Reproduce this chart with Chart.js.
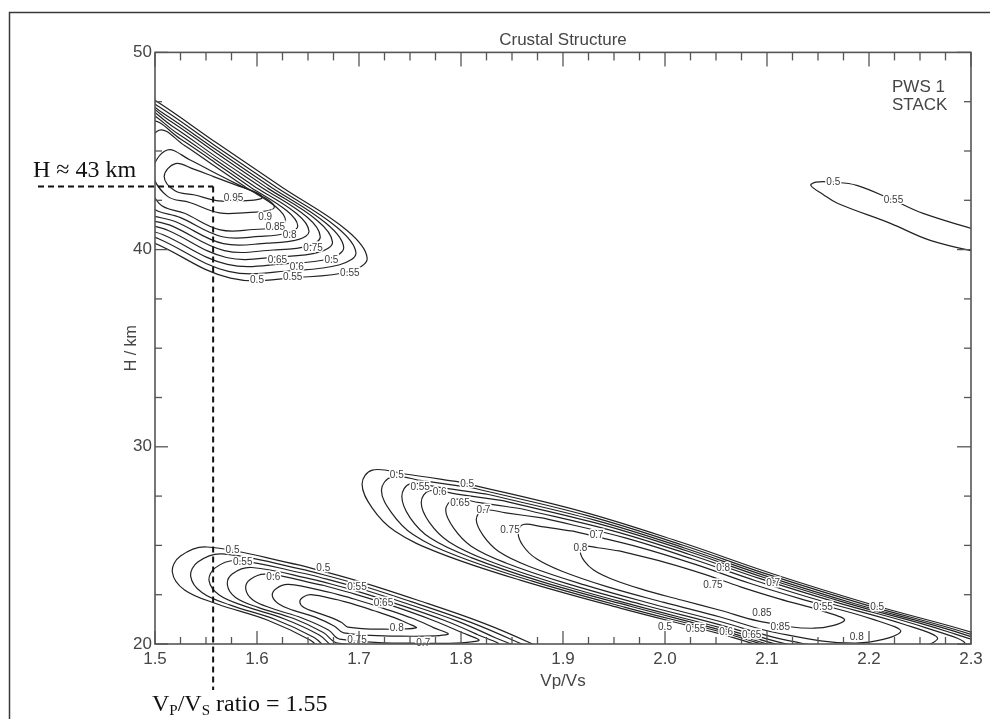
<!DOCTYPE html>
<html><head><meta charset="utf-8">
<style>html,body{margin:0;padding:0;background:#fff;}canvas{display:block;}</style>
<script src="https://cdn.jsdelivr.net/npm/chart.js@4.4.1/dist/chart.umd.min.js"></script>
</head><body>
<canvas id="c" width="990" height="719"></canvas>
<script>
// ---- axis ticks ----
const xTickLabels = ['1.5','1.6','1.7','1.8','1.9','2.0','2.1','2.2','2.3'];
const yTickLabels = ['20','30','40','50'];

// ---- picked values (annotation) ----
const pickedVpVs = 1.557;
const pickedH = 43.2;

// ---- contour levels ----
const levelsTopLeft = [0.5,0.55,0.6,0.65,0.7,0.75,0.8,0.85,0.9,0.95];
const levelsBottomLeft = [0.5,0.55,0.6,0.65,0.7,0.75,0.8];
const levelsMiddle = [0.5,0.55,0.6,0.65,0.7,0.75,0.8,0.85];
const levelsTopRight = [0.5];

// ---- contour lines [Vp/Vs, H] ----
const contoursTopLeft = [
 [[1.626,43.11],[1.688,40.98],[1.708,39.56],[1.691,38.90],[1.642,38.60],[1.574,38.55],[1.500,40.32],[1.446,41.39],[1.412,45.54],[1.446,49.19],[1.500,47.57],[1.561,45.39],[1.626,43.11]],
 [[1.620,43.12],[1.678,41.15],[1.697,39.84],[1.681,39.23],[1.636,38.94],[1.572,38.90],[1.504,40.54],[1.454,41.52],[1.423,45.37],[1.454,48.74],[1.504,47.24],[1.560,45.23],[1.620,43.12]],
 [[1.615,43.12],[1.668,41.32],[1.685,40.11],[1.671,39.55],[1.629,39.29],[1.571,39.25],[1.508,40.75],[1.463,41.66],[1.433,45.19],[1.463,48.29],[1.508,46.91],[1.560,45.06],[1.615,43.12]],
 [[1.610,43.13],[1.659,41.48],[1.674,40.38],[1.661,39.87],[1.623,39.64],[1.570,39.60],[1.513,40.97],[1.471,41.80],[1.444,45.02],[1.471,47.85],[1.513,46.59],[1.560,44.90],[1.610,43.13]],
 [[1.605,43.14],[1.649,41.65],[1.662,40.66],[1.651,40.19],[1.616,39.98],[1.568,39.95],[1.517,41.19],[1.479,41.93],[1.455,44.84],[1.479,47.40],[1.517,46.26],[1.559,44.74],[1.605,43.14]],
 [[1.599,43.15],[1.639,41.82],[1.651,40.93],[1.641,40.52],[1.610,40.33],[1.567,40.30],[1.521,41.40],[1.487,42.07],[1.466,44.67],[1.487,46.95],[1.521,45.93],[1.559,44.57],[1.599,43.15]],
 [[1.594,43.15],[1.629,41.98],[1.640,41.20],[1.630,40.84],[1.603,40.67],[1.566,40.65],[1.525,41.62],[1.496,42.21],[1.477,44.49],[1.496,46.50],[1.525,45.61],[1.559,44.41],[1.594,43.15]],
 [[1.589,43.16],[1.619,42.15],[1.628,41.48],[1.620,41.16],[1.597,41.02],[1.564,41.00],[1.529,41.84],[1.504,42.34],[1.488,44.32],[1.504,46.05],[1.529,45.28],[1.558,44.25],[1.589,43.16]],
 [[1.584,43.23],[1.609,42.59],[1.617,42.16],[1.610,41.97],[1.590,41.88],[1.563,41.86],[1.534,42.39],[1.512,42.71],[1.498,43.96],[1.512,45.05],[1.534,44.56],[1.558,43.91],[1.584,43.23]],
 [[1.579,43.28],[1.599,42.90],[1.605,42.64],[1.600,42.53],[1.584,42.47],[1.562,42.47],[1.538,42.78],[1.520,42.97],[1.509,43.71],[1.520,44.36],[1.538,44.08],[1.558,43.69],[1.579,43.28]]
];

const contoursBottomLeft = [
 [[1.642,24.00],[1.551,24.92],[1.525,24.46],[1.517,23.65],[1.529,22.74],[1.561,22.03],[1.610,21.22],[1.652,20.20],[1.672,19.44],[1.789,19.09],[1.897,19.29],[1.868,20.05],[1.822,21.06],[1.757,22.23],[1.696,23.24],[1.642,24.00]],
 [[1.648,23.75],[1.566,24.57],[1.542,24.16],[1.535,23.43],[1.546,22.61],[1.574,21.97],[1.618,21.24],[1.656,20.33],[1.674,19.65],[1.780,19.33],[1.877,19.51],[1.851,20.19],[1.809,21.11],[1.751,22.15],[1.696,23.07],[1.648,23.75]],
 [[1.653,23.50],[1.580,24.23],[1.559,23.86],[1.553,23.21],[1.563,22.48],[1.588,21.92],[1.627,21.27],[1.661,20.46],[1.677,19.85],[1.771,19.56],[1.857,19.73],[1.833,20.33],[1.797,21.15],[1.745,22.08],[1.696,22.89],[1.653,23.50]],
 [[1.658,23.24],[1.595,23.88],[1.576,23.56],[1.571,22.99],[1.579,22.36],[1.601,21.86],[1.636,21.29],[1.665,20.58],[1.679,20.05],[1.761,19.80],[1.837,19.94],[1.816,20.48],[1.784,21.19],[1.739,22.00],[1.696,22.71],[1.658,23.24]],
 [[1.664,22.99],[1.609,23.54],[1.593,23.26],[1.589,22.78],[1.596,22.23],[1.615,21.80],[1.644,21.32],[1.670,20.71],[1.681,20.25],[1.752,20.04],[1.817,20.16],[1.799,20.62],[1.771,21.23],[1.733,21.93],[1.696,22.53],[1.664,22.99]],
 [[1.672,22.61],[1.631,23.02],[1.619,22.82],[1.615,22.45],[1.621,22.04],[1.635,21.72],[1.657,21.36],[1.676,20.90],[1.685,20.56],[1.738,20.40],[1.787,20.49],[1.773,20.83],[1.753,21.29],[1.724,21.81],[1.696,22.27],[1.672,22.61]],
 [[1.680,22.23],[1.653,22.50],[1.645,22.37],[1.642,22.12],[1.646,21.85],[1.656,21.64],[1.670,21.39],[1.683,21.09],[1.689,20.86],[1.724,20.75],[1.756,20.82],[1.748,21.04],[1.734,21.35],[1.714,21.70],[1.696,22.00],[1.680,22.23]]
];

const contoursMiddle = [
 [[1.799,28.21],[1.745,28.62],[1.713,28.82],[1.703,28.11],[1.713,26.89],[1.735,25.73],[1.779,24.61],[1.858,23.24],[1.956,21.82],[2.054,20.51],[2.152,19.09],[2.289,18.18],[2.368,19.19],[2.319,20.30],[2.204,21.98],[2.106,23.55],[2.015,25.17],[1.917,26.74],[1.799,28.21]],
 [[1.813,27.90],[1.762,28.28],[1.732,28.47],[1.722,27.80],[1.732,26.65],[1.753,25.55],[1.795,24.49],[1.869,23.20],[1.961,21.86],[2.054,20.62],[2.147,19.28],[2.276,18.41],[2.350,19.37],[2.304,20.42],[2.196,22.00],[2.103,23.49],[2.017,25.02],[1.924,26.51],[1.813,27.90]],
 [[1.827,27.58],[1.779,27.94],[1.750,28.12],[1.742,27.49],[1.750,26.41],[1.770,25.37],[1.810,24.38],[1.879,23.16],[1.967,21.90],[2.054,20.72],[2.141,19.46],[2.263,18.65],[2.333,19.55],[2.290,20.54],[2.187,22.03],[2.100,23.43],[2.019,24.87],[1.932,26.27],[1.827,27.58]],
 [[1.841,27.27],[1.796,27.60],[1.769,27.77],[1.761,27.18],[1.769,26.17],[1.788,25.19],[1.825,24.26],[1.890,23.12],[1.972,21.93],[2.054,20.83],[2.136,19.65],[2.250,18.89],[2.316,19.73],[2.275,20.66],[2.179,22.06],[2.097,23.37],[2.021,24.73],[1.939,26.04],[1.841,27.27]],
 [[1.859,26.86],[1.818,27.17],[1.793,27.33],[1.785,26.79],[1.793,25.86],[1.810,24.96],[1.844,24.11],[1.904,23.06],[1.979,21.98],[2.054,20.97],[2.129,19.89],[2.234,19.19],[2.294,19.96],[2.256,20.82],[2.169,22.10],[2.094,23.30],[2.024,24.54],[1.949,25.74],[1.859,26.86]],
 [[1.881,26.38],[1.844,26.65],[1.822,26.79],[1.815,26.31],[1.822,25.48],[1.837,24.69],[1.867,23.93],[1.921,23.00],[1.987,22.04],[2.054,21.14],[2.121,20.17],[2.214,19.55],[2.267,20.24],[2.234,21.00],[2.156,22.14],[2.089,23.21],[2.027,24.31],[1.961,25.38],[1.881,26.38]],
 [[1.910,25.72],[1.879,25.95],[1.861,26.06],[1.856,25.66],[1.861,24.97],[1.874,24.32],[1.899,23.69],[1.943,22.91],[1.999,22.11],[2.054,21.37],[2.109,20.57],[2.187,20.05],[2.231,20.62],[2.204,21.25],[2.139,22.20],[2.083,23.08],[2.032,24.00],[1.976,24.89],[1.910,25.72]],
 [[1.955,24.72],[1.934,24.88],[1.921,24.95],[1.917,24.68],[1.921,24.20],[1.930,23.75],[1.947,23.31],[1.977,22.78],[2.016,22.23],[2.054,21.71],[2.092,21.16],[2.146,20.80],[2.176,21.20],[2.157,21.63],[2.112,22.29],[2.074,22.90],[2.039,23.53],[2.000,24.14],[1.955,24.72]]
];

const contoursTopRight = [
 [[2.319,40.78],[2.253,41.84],[2.224,42.50],[2.188,43.26],[2.165,43.42],[2.148,43.42],[2.143,43.25],[2.155,42.80],[2.169,42.35],[2.221,41.33],[2.260,40.47],[2.319,39.72]]
];

// contour labels [Vp/Vs, H, text]
const contourLabels = [
 [1.577,42.60,'0.95'],[1.608,41.64,'0.9'],[1.618,41.13,'0.85'],[1.632,40.73,'0.8'],[1.655,40.07,'0.75'],
 [1.620,39.46,'0.65'],[1.639,39.10,'0.6'],[1.673,39.46,'0.5'],[1.691,38.80,'0.55'],[1.600,38.44,'0.5'],[1.635,38.60,'0.55'],
 [1.576,24.76,'0.5'],[1.586,24.15,'0.55'],[1.616,23.39,'0.6'],[1.665,23.85,'0.5'],[1.698,22.89,'0.55'],
 [1.724,22.08,'0.65'],[1.737,20.81,'0.8'],[1.698,20.20,'0.75'],[1.763,20.05,'0.7'],
 [1.737,28.56,'0.5'],[1.760,27.95,'0.55'],[1.779,27.70,'0.6'],[1.806,28.10,'0.5'],[1.799,27.14,'0.65'],
 [1.822,26.79,'0.7'],[1.848,25.78,'0.75'],[1.917,24.86,'0.8'],[1.933,25.52,'0.7'],[2.057,23.85,'0.8'],
 [2.047,22.99,'0.75'],[2.106,23.09,'0.7'],[2.208,21.87,'0.5'],[2.155,21.87,'0.55'],[2.095,21.57,'0.85'],
 [2.113,20.86,'0.85'],[2.188,20.35,'0.8'],[2.000,20.85,'0.5'],[2.030,20.75,'0.55'],[2.060,20.60,'0.6'],[2.085,20.45,'0.65'],
 [2.165,43.41,'0.5'],[2.224,42.50,'0.55']
];

const families = [
 {name:'A', lines: contoursTopLeft, levels: levelsTopLeft},
 {name:'B', lines: contoursBottomLeft, levels: levelsBottomLeft},
 {name:'C', lines: contoursMiddle, levels: levelsMiddle},
 {name:'D', lines: contoursTopRight, levels: levelsTopRight}
];

const datasets = [];
families.forEach(f => f.lines.forEach((ln, i) => {
  datasets.push({
    label: f.name + ' ' + f.levels[i],
    data: ln.map(p => ({x: p[0], y: p[1]})),
    showLine: true, borderColor: '#222', borderWidth: 1.2,
    pointRadius: 0, pointHoverRadius: 0, tension: 0.38, fill: false, clip: 0
  });
}));

const FONT = "'Liberation Sans', Arial, Helvetica, sans-serif";
const SERIF = "'Liberation Serif', 'Times New Roman', serif";
const TXT = '#454545';

const decor = {
  id: 'decor',
  beforeDraw(chart) {
    const c = chart.ctx;
    c.save(); c.fillStyle = '#fff'; c.fillRect(0, 0, chart.width, chart.height); c.restore();
  },
  afterDatasetsDraw(chart) {
    const {ctx: c, scales: {x, y}} = chart;
    c.save();
    c.font = '10px ' + FONT;
    c.textAlign = 'center'; c.textBaseline = 'middle';
    contourLabels.forEach(l => {
      const px = x.getPixelForValue(l[0]), py = y.getPixelForValue(l[1]);
      c.lineWidth = 3; c.strokeStyle = '#fff'; c.strokeText(l[2], px, py);
      c.fillStyle = '#3a3a3a'; c.fillText(l[2], px, py);
    });
    c.restore();
  },
  afterDraw(chart) {
    const {ctx: c, chartArea: a, scales: {x, y}} = chart;
    c.save();
    // outer frame
    c.strokeStyle = '#3a3a3a'; c.lineWidth = 1.5;
    c.beginPath(); c.moveTo(9.5, chart.height); c.lineTo(9.5, 12.5); c.lineTo(chart.width, 12.5); c.stroke();
    // plot box
    c.strokeStyle = '#555'; c.lineWidth = 1.6;
    c.strokeRect(a.left, a.top, a.right - a.left, a.bottom - a.top);
    // inward ticks
    c.lineWidth = 1.3;
    const line = (x1, y1, x2, y2) => { c.beginPath(); c.moveTo(x1, y1); c.lineTo(x2, y2); c.stroke(); };
    const xv = xTickLabels.map(Number), yv = yTickLabels.map(Number);
    for (let i = 0; i < xv.length; i++) {
      const p = x.getPixelForValue(xv[i]);
      line(p, a.bottom, p, a.bottom - 13); line(p, a.top, p, a.top + 14);
      if (i < xv.length - 1) for (let k = 1; k < 4; k++) {
        const q = x.getPixelForValue(xv[i] + (xv[i + 1] - xv[i]) * k / 4);
        line(q, a.bottom, q, a.bottom - 7); line(q, a.top, q, a.top + 8);
      }
    }
    for (let i = 0; i < yv.length; i++) {
      const p = y.getPixelForValue(yv[i]);
      line(a.left, p, a.left + 13, p); line(a.right, p, a.right - 14, p);
      if (i < yv.length - 1) for (let k = 1; k < 4; k++) {
        const q = y.getPixelForValue(yv[i] + (yv[i + 1] - yv[i]) * k / 4);
        line(a.left, q, a.left + 7, q); line(a.right, q, a.right - 7, q);
      }
    }
    // station text
    c.fillStyle = TXT; c.font = '17px ' + FONT; c.textAlign = 'left'; c.textBaseline = 'middle';
    c.fillText('PWS 1', a.right - 79, a.top + 35);
    c.fillText('STACK', a.right - 79, a.top + 53);
    // annotation dashed lines
    const hx = x.getPixelForValue(pickedVpVs), hy = y.getPixelForValue(pickedH);
    c.strokeStyle = '#111'; c.lineWidth = 2; c.setLineDash([6, 4]);
    line(a.left - 117, hy, hx, hy);
    line(hx, hy, hx, a.bottom + 46);
    c.setLineDash([]);
    // annotation texts
    c.fillStyle = '#111'; c.textBaseline = 'alphabetic';
    c.font = '24px ' + SERIF;
    c.fillText('H \u2248 43 km', a.left - 122, hy - 9);
    let tx = a.left - 3; const by = a.bottom + 67;
    const seg = (t, f, dy) => { c.font = f; c.fillText(t, tx, by + dy); tx += c.measureText(t).width; };
    seg('V', '24px ' + SERIF, 0);
    seg('P', '15px ' + SERIF, 4);
    seg('/V', '24px ' + SERIF, 0);
    seg('S', '15px ' + SERIF, 4);
    seg(' ratio = 1.55', '24px ' + SERIF, 0);
    c.restore();
  }
};

new Chart(document.getElementById('c'), {
  type: 'scatter',
  data: { datasets },
  options: {
    responsive: false, animation: false, devicePixelRatio: 1,
    layout: { padding: { left: 118, right: 19, top: 0, bottom: 23 } },
    elements: { line: { capBezierPoints: false } },
    plugins: {
      legend: { display: false }, tooltip: { enabled: false },
      title: { display: true, text: 'Crustal Structure', color: TXT, fullSize: false,
               font: { family: FONT, size: 17, weight: 'normal' }, padding: { top: 30, bottom: 2 } }
    },
    scales: {
      x: {
        type: 'linear', min: 1.5, max: 2.3,
        grid: { display: false, drawTicks: false }, border: { display: false },
        ticks: { stepSize: 0.1, padding: 5, color: TXT, font: { family: FONT, size: 17 },
                 callback: (v) => { const s = v.toFixed(1); return xTickLabels.includes(s) ? s : ''; } },
        title: { display: true, text: 'Vp/Vs', color: TXT, font: { family: FONT, size: 17 }, padding: { top: 0, bottom: 4 } },
        afterFit(s) { s.height = 52; }
      },
      y: {
        type: 'linear', min: 20, max: 50,
        grid: { display: false, drawTicks: false }, border: { display: false },
        ticks: { stepSize: 10, padding: 3, color: TXT, font: { family: FONT, size: 17 },
                 callback: (v) => { const s = String(Math.round(v)); return yTickLabels.includes(s) ? s : ''; } },
        title: { display: true, text: 'H / km', color: TXT, font: { family: FONT, size: 16 }, padding: { top: 4, bottom: 0 } },
        afterFit(s) { s.width = 37; }
      }
    }
  },
  plugins: [decor]
});
</script>
</body></html>
